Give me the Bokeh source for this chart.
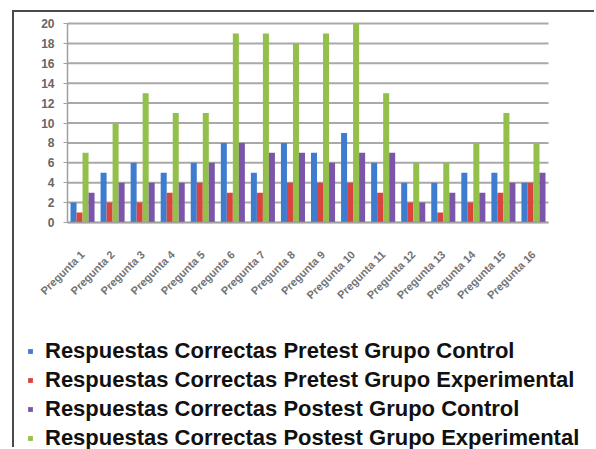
from bokeh.plotting import figure
from bokeh.models import (FactorRange, Range1d, ColumnDataSource, Legend, LegendItem,
                          FixedTicker)
from bokeh.transform import dodge
from bokeh.embed import file_html
from bokeh.resources import INLINE

categories = [f"Pregunta {i}" for i in range(1, 17)]
pretest_control = [2, 5, 6, 5, 6, 8, 5, 8, 7, 9, 6, 4, 4, 5, 5, 4]
pretest_experimental = [1, 2, 2, 3, 4, 3, 3, 4, 4, 4, 3, 2, 1, 2, 3, 4]
postest_control = [3, 4, 4, 4, 6, 8, 7, 7, 6, 7, 7, 2, 3, 3, 4, 5]
postest_experimental = [7, 10, 13, 11, 11, 19, 19, 18, 19, 20, 13, 6, 6, 8, 11, 8]
y_ticks = [0, 2, 4, 6, 8, 10, 12, 14, 16, 18, 20]

series_names = [
    "Respuestas Correctas Pretest Grupo Control",
    "Respuestas Correctas Pretest Grupo Experimental",
    "Respuestas Correctas Postest Grupo Control",
    "Respuestas Correctas Postest Grupo Experimental",
]
colors = ["#3e7ccf", "#d8453f", "#7b55aa", "#92c04a"]

source = ColumnDataSource(dict(
    cat=categories,
    pc=pretest_control,
    pe=pretest_experimental,
    qc=postest_control,
    qe=postest_experimental,
))

n = len(categories)
x_range = FactorRange(*categories, range_padding=1.5635, range_padding_units="absolute")
p = figure(width=582, height=437, x_range=x_range, y_range=Range1d(-22.81, 21.106),
           output_backend="svg", toolbar_location=None,
           min_border_left=6, min_border_right=1, min_border_top=0, min_border_bottom=0,
           styles={"margin-left": "12px", "margin-top": "10px",
                   "border-left": "2px solid #4a4a4a", "border-top": "2px solid #4a4a4a"})
p.outline_line_color = None
p.background_fill_color = "white"
p.border_fill_color = "white"

# horizontal grid lines limited to the category span
p.xgrid.grid_line_color = None
p.ygrid.grid_line_color = None
p.segment(x0=[0] * len(y_ticks), x1=[n] * len(y_ticks), y0=y_ticks, y1=y_ticks,
          line_color="#a9a9a9", line_width=2)

# bar order within a group: blue, red, green, purple
r_pc = p.vbar(x=dodge("cat", -0.3, range=p.x_range), top="pc", width=0.2, source=source,
              fill_color=colors[0], line_color=None)
r_pe = p.vbar(x=dodge("cat", -0.1, range=p.x_range), top="pe", width=0.2, source=source,
              fill_color=colors[1], line_color=None)
r_qe = p.vbar(x=dodge("cat", 0.1, range=p.x_range), top="qe", width=0.2, source=source,
              fill_color=colors[3], line_color=None)
r_qc = p.vbar(x=dodge("cat", 0.3, range=p.x_range), top="qc", width=0.2, source=source,
              fill_color=colors[2], line_color=None)

p.yaxis.fixed_location = 0
p.yaxis.bounds = (0, 20)
p.yaxis.ticker = FixedTicker(ticks=y_ticks)
p.yaxis.axis_line_color = "#a0a0a0"
p.yaxis.axis_line_width = 1.5
p.yaxis.major_tick_line_color = "#a0a0a0"
p.yaxis.major_tick_out = 4
p.yaxis.major_tick_in = 0
p.yaxis.minor_tick_line_color = None
p.yaxis.major_label_text_font = "Liberation Sans"
p.yaxis.major_label_text_font_style = "bold"
p.yaxis.major_label_text_font_size = "12px"
p.yaxis.major_label_text_color = "#666666"
p.yaxis.major_label_standoff = 9

p.xaxis.fixed_location = 0
p.xaxis.bounds = (0, n)
p.xaxis.axis_line_color = "#a0a0a0"
p.xaxis.axis_line_width = 1.5
p.xaxis.major_tick_line_color = None
p.xaxis.major_label_orientation = 0.785
p.xaxis.major_label_text_font = "Liberation Sans"
p.xaxis.major_label_text_font_style = "bold"
p.xaxis.major_label_text_font_size = "11px"
p.xaxis.major_label_text_color = "#737373"
p.xaxis.major_label_standoff = 24

legend = Legend(items=[
    LegendItem(label=series_names[0], renderers=[r_pc]),
    LegendItem(label=series_names[1], renderers=[r_pe]),
    LegendItem(label=series_names[2], renderers=[r_qc]),
    LegendItem(label=series_names[3], renderers=[r_qe]),
], location=(7, -2), orientation="vertical")
legend.label_text_font = "Liberation Sans"
legend.label_text_font_style = "bold"
legend.label_text_font_size = "22px"
legend.label_text_color = "#111111"
legend.glyph_width = 6
legend.glyph_height = 6
legend.label_standoff = 12
legend.label_height = 24
legend.spacing = 3
legend.padding = 0
legend.margin = 0
legend.border_line_color = None
legend.background_fill_alpha = 0
p.add_layout(legend, "center")

open("out.html", "w").write(file_html(p, INLINE))
